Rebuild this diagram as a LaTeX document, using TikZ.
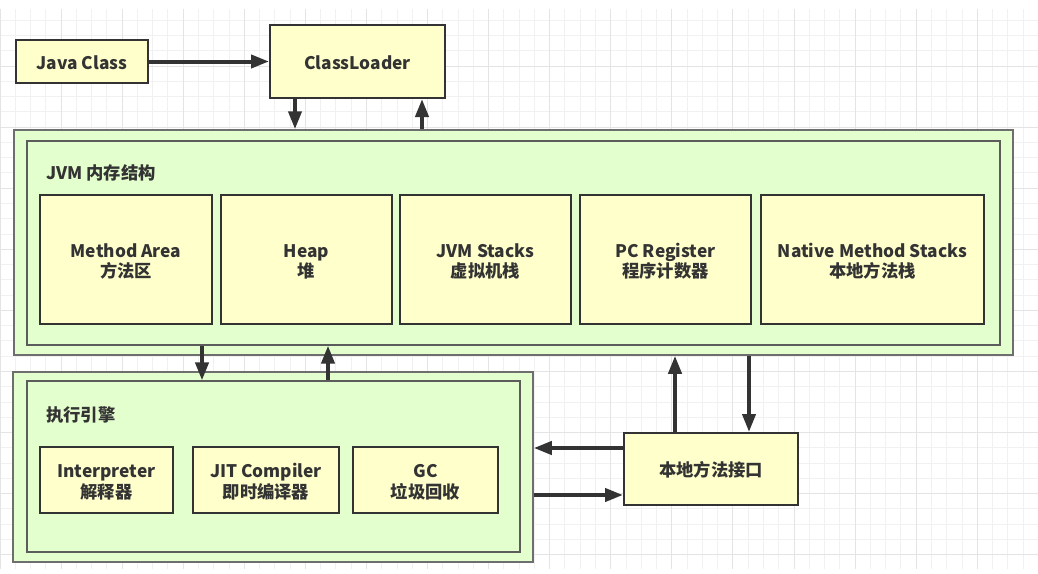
\documentclass[tikz,border=0pt]{standalone}
\usepackage{fontspec}
\setmainfont{Noto Sans CJK SC}
\usetikzlibrary{arrows.meta}

\definecolor{ink}{HTML}{333333}
\definecolor{partfill}{HTML}{FFFFCC}
\definecolor{areafill}{HTML}{E4FFCE}
\definecolor{areaedge}{HTML}{6E6E6E}
\definecolor{gridminor}{HTML}{F1F1F1}
\definecolor{gridmajor}{HTML}{E4E4E4}

\tikzset{
  part/.style={draw=ink, line width=2pt, fill=partfill, text=ink, align=center,
    inner sep=0pt, font=\fontsize{17.3}{20.5}\selectfont\bfseries,
    text height=15.4pt, text depth=0pt},
  twoline/.style={text height=36.6pt},
  area/.style={draw=areaedge, line width=1.5pt, fill=areafill, inner sep=0pt},
  areatitle/.style={anchor=west, inner sep=0pt, text=ink,
    font=\fontsize{17.3}{20.5}\selectfont\bfseries},
  flow/.style={draw=ink, line width=4pt, -{Triangle[length=18pt,width=13pt]}},
}

\begin{document}
\begin{tikzpicture}[x=1pt, y=-1pt]
    \useasboundingbox (0,0) rectangle (1038,573);
    % background grid
    \foreach \gx in {0,...,68} \draw[gridminor, line width=1pt] (\gx*15.27,9) -- (\gx*15.27,569);
    \foreach \gy in {1,...,36} \draw[gridminor, line width=1pt] (0,5+\gy*15.27) -- (1038,5+\gy*15.27);
    \foreach \gx in {0,4,...,68} \draw[gridmajor, line width=1pt] (\gx*15.27,9) -- (\gx*15.27,569);
    \foreach \gy in {4,8,...,36} \draw[gridmajor, line width=1pt] (0,5+\gy*15.27) -- (1038,5+\gy*15.27);

    % loading
    \node[part, minimum width=132pt, minimum height=43pt] (javaclass) at (82,61.5) {Java Class};
    \node[part, minimum width=175pt, minimum height=73pt] (classloader) at (357.5,61.5) {ClassLoader};

    % JVM memory
    \node[area, minimum width=999pt, minimum height=225pt] (jvmouter) at (513.5,242.5) {};
    \node[area, draw=ink!80, line width=1.2pt, minimum width=973pt, minimum height=204pt] (jvminner) at (513.5,243) {};
    \node[areatitle] (jvmtitle) at (46,173) {JVM 内存结构};
    \node[part, twoline, minimum width=172pt, minimum height=129pt] (methodarea) at (126,259.5) {Method Area\\方法区};
    \node[part, twoline, minimum width=171pt, minimum height=129pt] (heap) at (306.5,259.5) {Heap\\堆};
    \node[part, twoline, minimum width=171pt, minimum height=129pt] (jvmstacks) at (485.5,259.5) {JVM Stacks\\虚拟机栈};
    \node[part, twoline, minimum width=171pt, minimum height=129pt] (pcregister) at (665.5,259.5) {PC Register\\程序计数器};
    \node[part, twoline, minimum width=223pt, minimum height=129pt] (nativestacks) at (872.5,259.5) {Native Method Stacks\\本地方法栈};

    % execution engine
    \node[area, minimum width=520pt, minimum height=190pt] (execouter) at (273,467) {};
    \node[area, draw=ink!80, line width=1.2pt, minimum width=493pt, minimum height=171pt] (execinner) at (273.5,466.5) {};
    \node[areatitle] (exectitle) at (46,414.5) {执行引擎};
    \node[part, twoline, minimum width=133pt, minimum height=66pt] (interpreter) at (106.5,480) {Interpreter\\解释器};
    \node[part, twoline, minimum width=146pt, minimum height=66pt] (jitcompiler) at (266,480) {JIT Compiler\\即时编译器};
    \node[part, twoline, minimum width=145pt, minimum height=66pt] (gc) at (425.5,480) {GC\\垃圾回收};

    % native interface
    \node[part, minimum width=174pt, minimum height=72pt] (nativeif) at (711,469) {本地方法接口};

    % connector positions
    \coordinate (loaddown) at (295,0);
    \coordinate (loadup) at (422,0);
    \coordinate (execdown) at (202,0);
    \coordinate (execup) at (328,0);
    \coordinate (nativeup) at (675,0);
    \coordinate (nativedown) at (749,0);
    \coordinate (callleft) at (0,448);
    \coordinate (callright) at (0,495);

    \draw[flow] (javaclass.east) -- (classloader.west);
    \draw[flow] (classloader.south -| loaddown) -- (jvmouter.north -| loaddown);
    \draw[flow] (jvmouter.north -| loadup) -- (classloader.south -| loadup);
    \draw[flow] (jvminner.south -| execdown) -- (execinner.north -| execdown);
    \draw[flow] (execinner.north -| execup) -- (jvminner.south -| execup);
    \draw[flow] (nativeif.north -| nativeup) -- (jvmouter.south -| nativeup);
    \draw[flow] (jvmouter.south -| nativedown) -- (nativeif.north -| nativedown);
    \draw[flow] (nativeif.west |- callleft) -- (execouter.east |- callleft);
    \draw[flow] (execouter.east |- callright) -- (nativeif.west |- callright);
\end{tikzpicture}
\end{document}
